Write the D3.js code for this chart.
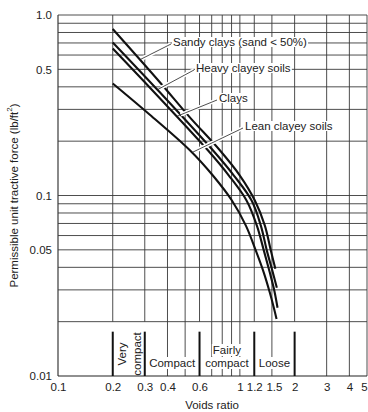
<!DOCTYPE html>
<html>
<head>
<meta charset="utf-8">
<script src="https://cdn.jsdelivr.net/npm/d3@7"></script>
<style>
  body { margin: 0; background: #fff; }
  svg { display: block; }
  text { font-family: "Liberation Sans", Arial, sans-serif; fill: #222; }
</style>
</head>
<body>
<div id="chart"></div>
<script>
// PERMISSIBLE UNIT TRACTIVE FORCE (lb/ft2) VS VOIDS RATIO, ONE PAIR OF ARRAYS PER SOIL
const sandyVoids  = [0.2, 0.363, 0.531, 0.776, 1.0, 1.209, 1.372, 1.48, 1.567];
const sandyForce  = [0.836, 0.424, 0.271, 0.178, 0.129, 0.0938, 0.0681, 0.0495, 0.0393];

const heavyVoids  = [0.2, 0.363, 0.7105, 0.927, 1.16, 1.304, 1.407, 1.509, 1.597];
const heavyForce  = [0.705, 0.373, 0.178, 0.129, 0.0938, 0.0681, 0.0495, 0.0383, 0.0308];

const claysVoids  = [0.2, 0.363, 0.667, 0.87, 1.088, 1.24, 1.355, 1.462, 1.547, 1.611];
const claysForce  = [0.653, 0.346, 0.178, 0.129, 0.0938, 0.0681, 0.0495, 0.0373, 0.0297, 0.0239];

const leanVoids   = [0.2, 0.32, 0.531, 0.7105, 0.904, 1.079, 1.224, 1.355, 1.462, 1.537, 1.591];
const leanForce   = [0.4174, 0.28, 0.178, 0.129, 0.0938, 0.0681, 0.0495, 0.0373, 0.0289, 0.0239, 0.0207];

const seriesNames = ["Sandy clays (sand < 50%)", "Heavy clayey soils", "Clays", "Lean clayey soils"];

// GRID + TICKS
const xGrid = [0.1, 0.2, 0.3, 0.4, 0.5, 0.6, 0.7, 0.8, 0.9, 1, 1.2, 1.5, 2, 3, 4, 5];
const yGrid = [1.0, 0.9, 0.8, 0.7, 0.6, 0.5, 0.4, 0.3, 0.2, 0.1, 0.09, 0.08, 0.07, 0.06, 0.05, 0.04, 0.03, 0.02];
const xTicks = [0.1, 0.2, 0.3, 0.4, 0.6, 1, 1.2, 1.5, 2, 3, 4, 5];
const yTicks = [1.0, 0.5, 0.1, 0.05, 0.01];
const yTickLabels = ["1.0", "0.5", "0.1", "0.05", "0.01"];

// COMPACTNESS ZONES ALONG THE VOIDS RATIO AXIS
const zoneBounds = [0.2, 0.3, 0.6, 1.2, 2];
const zoneNames = [["Very", "compact"], ["Compact"], ["Fairly", "compact"], ["Loose"]];

// SIZE
const width = 368, height = 412;
const plotLeft = 58, plotRight = 367, plotTop = 15, plotBottom = 376;
const fontSize = "11.5px";

const svg = d3.select("#chart").append("svg")
    .attr("width", width)
    .attr("height", height);

const x = d3.scaleLog().domain([0.1, 5]).range([plotLeft, plotRight]);
const y = d3.scaleLog().domain([0.01, 1]).range([plotBottom, plotTop]);

const gridColor = "#3a3a3a";
const zoneTop = y(0.02);

// HORIZONTAL GRID
svg.append("g").selectAll("line")
    .data(yGrid)
    .join("line")
    .attr("x1", plotLeft).attr("x2", plotRight)
    .attr("y1", d => y(d)).attr("y2", d => y(d))
    .attr("stroke", gridColor)
    .attr("stroke-width", 0.9);

// VERTICAL GRID (ZONE BOUNDS STOP AT 0.02)
svg.append("g").selectAll("line")
    .data(xGrid)
    .join("line")
    .attr("x1", d => x(d)).attr("x2", d => x(d))
    .attr("y1", plotTop)
    .attr("y2", d => zoneBounds.includes(d) ? zoneTop : plotBottom)
    .attr("stroke", gridColor)
    .attr("stroke-width", d => d === 0.1 ? 1.2 : 0.9);

// BOTTOM BORDER
svg.append("line")
    .attr("x1", plotLeft).attr("x2", plotRight)
    .attr("y1", plotBottom).attr("y2", plotBottom)
    .attr("stroke", "#222").attr("stroke-width", 1.2);

// ZONE LABELS
const zoneG = svg.append("g");
zoneNames.forEach((lines, i) => {
    const cx = x(Math.sqrt(zoneBounds[i] * zoneBounds[i + 1]));
    if (i === 0) {
        // rotated "Very compact"
        lines.forEach((t, k) => {
            const tx = cx - 7 + k * 15;
            zoneG.append("text")
                .attr("transform", `translate(${tx},354) rotate(-90)`)
                .attr("text-anchor", "middle")
                .attr("dominant-baseline", "central")
                .style("font-size", fontSize)
                .text(t);
        });
        return;
    }
    const ys = lines.length === 2 ? [350, 363] : [363];
    lines.forEach((t, k) => {
        const txt = zoneG.append("text")
            .attr("x", cx).attr("y", ys[k])
            .attr("text-anchor", "middle")
            .attr("dominant-baseline", "central")
            .style("font-size", fontSize)
            .text(t);
        const b = txt.node().getBBox();
        zoneG.insert("rect", "text")
            .attr("x", b.x - 1).attr("y", b.y)
            .attr("width", b.width + 2).attr("height", b.height)
            .attr("fill", "#fff");
    });
});

// ZONE BOUNDARY MARKERS
svg.append("g").selectAll("line")
    .data(zoneBounds)
    .join("line")
    .attr("x1", d => x(d)).attr("x2", d => x(d))
    .attr("y1", zoneTop + 10).attr("y2", plotBottom)
    .attr("stroke", "#111")
    .attr("stroke-width", 2);

// CURVES
const allSeries = [
    d3.zip(sandyVoids, sandyForce),
    d3.zip(heavyVoids, heavyForce),
    d3.zip(claysVoids, claysForce),
    d3.zip(leanVoids, leanForce)
];
const line = d3.line()
    .x(d => x(d[0]))
    .y(d => y(d[1]))
    .curve(d3.curveCatmullRom.alpha(0.5));

// log-log interpolation of a series at a voids ratio
function valueAt(series, v) {
    for (let k = 0; k < series.length - 1; k++) {
        const [v0, f0] = series[k], [v1, f1] = series[k + 1];
        if (v >= v0 && v <= v1) {
            const t = (Math.log(v) - Math.log(v0)) / (Math.log(v1) - Math.log(v0));
            return Math.exp(Math.log(f0) + t * (Math.log(f1) - Math.log(f0)));
        }
    }
    return series[0][1];
}

svg.append("g").selectAll("path")
    .data(allSeries)
    .join("path")
    .attr("d", line)
    .attr("fill", "none")
    .attr("stroke", "#111")
    .attr("stroke-width", 2.1);

// CURVE LABELS WITH LEADERS
const labelSpots = [
    { tx: 173, ty: 42, at: 0.282 },
    { tx: 196, ty: 68, at: 0.352 },
    { tx: 219, ty: 98, at: 0.449 },
    { tx: 245, ty: 126, at: 0.545 }
];
const labelG = svg.append("g");
seriesNames.forEach((name, i) => {
    const spot = labelSpots[i];
    const ex = x(spot.at), ey = y(valueAt(allSeries[i], spot.at));
    const sx = spot.tx - 2, sy = spot.ty + 2;
    const hx = sx + (ex - sx) * 0.9, hy = sy + (ey - sy) * 0.9;
    labelG.append("line")
        .attr("x1", sx).attr("y1", sy).attr("x2", hx).attr("y2", hy)
        .attr("stroke", "#fff").attr("stroke-width", 4);
    labelG.append("line")
        .attr("x1", sx).attr("y1", sy).attr("x2", ex).attr("y2", ey)
        .attr("stroke", "#222").attr("stroke-width", 0.8);
    const txt = labelG.append("text")
        .attr("x", spot.tx).attr("y", spot.ty)
        .attr("dominant-baseline", "central")
        .style("font-size", fontSize)
        .text(name);
    const b = txt.node().getBBox();
    labelG.insert("rect", "text")
        .attr("x", b.x - 1).attr("y", b.y + 1)
        .attr("width", b.width + 2).attr("height", b.height - 2)
        .attr("fill", "#fff");
});

// AXES
const xAxis = svg.append("g")
    .attr("transform", `translate(0,${plotBottom})`)
    .call(d3.axisBottom(x).tickValues(xTicks).tickFormat(d => String(d)).tickSize(0).tickPadding(7));
xAxis.select(".domain").remove();
xAxis.selectAll("text").style("font-size", fontSize).attr("fill", "#222")
    .attr("dx", d => d === 5 ? -3 : (d === 1.5 ? 2 : 0));

const yAxis = svg.append("g")
    .attr("transform", `translate(${plotLeft - 6},0)`)
    .call(d3.axisLeft(y).tickValues(yTicks).tickFormat((d, k) => yTickLabels[k]).tickSize(0).tickPadding(0));
yAxis.select(".domain").remove();
yAxis.selectAll("text").style("font-size", fontSize).attr("fill", "#222");

// AXIS TITLES
svg.append("text")
    .attr("x", 212).attr("y", 405)
    .attr("text-anchor", "middle")
    .attr("dominant-baseline", "central")
    .style("font-size", fontSize)
    .text("Voids ratio");

svg.append("text")
    .attr("transform", `translate(14,${(plotTop + plotBottom) / 2}) rotate(-90)`)
    .attr("text-anchor", "middle")
    .attr("dominant-baseline", "central")
    .style("font-size", fontSize)
    .html("Permissible unit tractive force (lb/ft<tspan baseline-shift='super' font-size='8px'>2</tspan>)");
</script>
</body>
</html>
